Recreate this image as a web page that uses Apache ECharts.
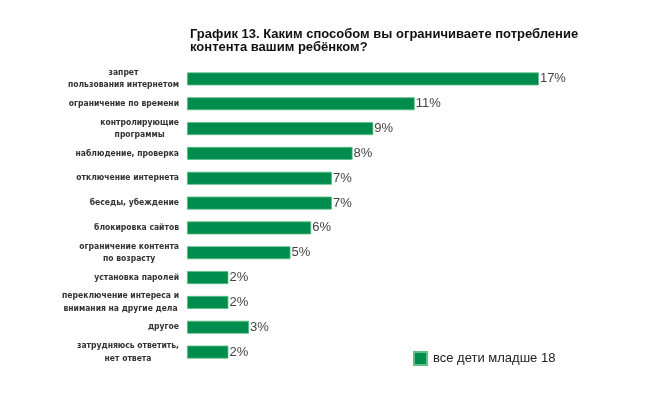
<!DOCTYPE html>
<html><head><meta charset="utf-8">
<script src="https://cdn.jsdelivr.net/npm/echarts@6/dist/echarts.min.js"></script>
<style>html,body{margin:0;padding:0;background:#fff}#c{width:660px;height:395px}</style>
</head><body><div id="c"></div>
<script>
const categories = [
  "запрет\nпользования интернетом",
  "ограничение по времени",
  "контролирующие\nпрограммы",
  "наблюдение, проверка",
  "отключение интернета",
  "беседы, убеждение",
  "блокировка сайтов",
  "ограничение контента\nпо возрасту",
  "установка паролей",
  "переключение интереса и\nвнимания на другие дела",
  "другое",
  "затрудняюсь ответить,\nнет ответа"
];
const values = [17, 11, 9, 8, 7, 7, 6, 5, 2, 2, 3, 2];
const seriesName = "все дети младше 18";
const titleText = "График 13. Каким способом вы ограничиваете потребление\nконтента вашим ребёнком?";

const chart = echarts.init(document.getElementById('c'), null, {renderer: 'canvas'});
chart.setOption({
  animation: false,
  title: {
    text: titleText,
    left: 190, top: 27.5, padding: 0,
    textStyle: {fontFamily: "'Liberation Sans', Arial, sans-serif", fontWeight: 'bold', fontSize: 13, lineHeight: 13.5, color: '#111'}
  },
  legend: {
    data: [seriesName],
    left: 413, top: 351, padding: 0,
    itemWidth: 13, itemHeight: 13, itemGap: 6,
    icon: 'rect',
    textStyle: {fontFamily: "'Liberation Sans', Arial, sans-serif", fontSize: 13, color: '#222', padding: [0, 0, 0, 1]}
  },
  grid: {left: 187, top: 66.5, width: 414, height: 298, containLabel: false},
  xAxis: {
    type: 'value', min: 0, max: 20,
    show: false
  },
  yAxis: {
    type: 'category', data: categories, inverse: true,
    axisLine: {show: false}, axisTick: {show: false},
    axisLabel: {
      margin: 8, align: 'right',
      formatter: function (v) {
        return v.split('\n').map(function (l) { return '{a|' + l + '}'; }).join('\n');
      },
      rich: {
        a: {
          align: 'center',
          fontFamily: "'Liberation Sans Narrow', 'Arial Narrow', 'DejaVu Sans Condensed', 'Liberation Sans', sans-serif",
          fontWeight: 'bold', fontSize: 8.5, lineHeight: 12.5, color: '#333'
        }
      }
    }
  },
  series: [{
    name: seriesName, type: 'bar', data: values, barWidth: 13,
    itemStyle: {color: '#008c4c', borderColor: '#5fbf86', borderWidth: 0.8},
    label: {
      show: true, position: 'right', distance: 1,
      formatter: '{c}%',
      fontFamily: "'Liberation Sans', Arial, sans-serif", fontSize: 13, color: '#444'
    }
  }]
});
</script></body></html>
